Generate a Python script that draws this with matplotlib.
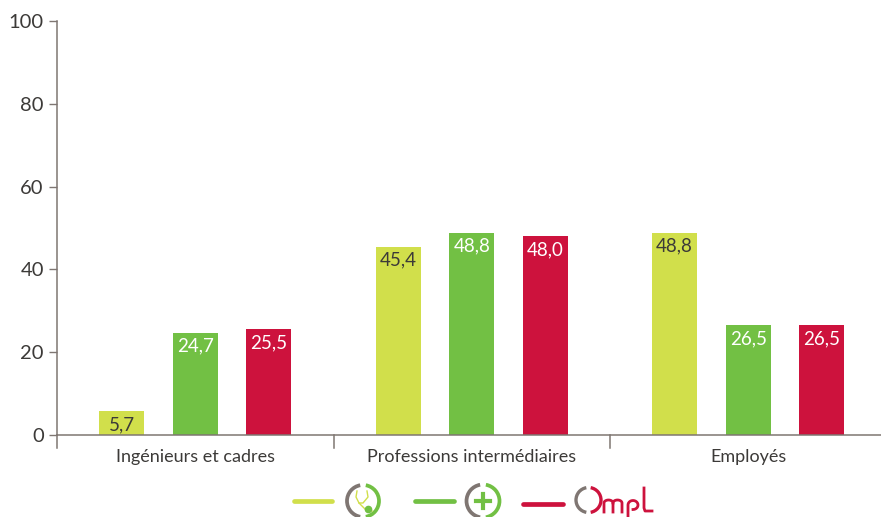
import numpy as np
import matplotlib
matplotlib.use("Agg")
import matplotlib.pyplot as plt
from matplotlib.patches import Arc

# --- Data ---
categories = ["Ingénieurs et cadres", "Professions intermédiaires", "Employés"]
series_1 = [5.7, 45.4, 48.8]
series_2 = [24.7, 48.8, 26.5]
series_3 = [25.5, 48.0, 26.5]
yticks = [0, 20, 40, 60, 80, 100]

LIME = "#d1df4b"
GREEN = "#72c044"
RED = "#cd123d"
GREY = "#7f7672"
TEXT = "#3c3a38"

plt.rcParams["font.family"] = ["Lato", "DejaVu Sans"]

W, H = 881, 517
fig = plt.figure(figsize=(W / 100, H / 100), dpi=100)

# axes area in pixels: x 57..881, y 21..435
ax = fig.add_axes([57 / W, 1 - 435 / H, (881 - 57) / W, (435 - 21) / H])
ax.set_ylim(0, 100)
cat_w = 276.5
ax.set_xlim(-0.5, -0.5 + (881 - 57) / cat_w)

step = 73.7 / cat_w
bar_w = 45 / cat_w
x = np.arange(len(categories))

for off, vals, col, txt in [(-step, series_1, LIME, TEXT),
                            (0, series_2, GREEN, "white"),
                            (step, series_3, RED, "white")]:
    ax.bar(x + off, vals, bar_w, color=col, zorder=2)
    for xi, v in zip(x, vals):
        ax.annotate(f"{v:.1f}".replace(".", ","), (xi + off, v), xytext=(0, -9.5),
                    textcoords="offset points", ha="center", va="center",
                    color=txt, fontsize=13.5)

for s in ["top", "right"]:
    ax.spines[s].set_visible(False)
for s in ["left", "bottom"]:
    ax.spines[s].set_color(GREY)
    ax.spines[s].set_linewidth(1.1)
    ax.spines[s].set_zorder(3)
ax.spines["left"].set_bounds(0, 100)

ax.set_yticks(yticks)
ax.tick_params(axis="y", length=6, width=1, color=GREY, labelsize=14.5,
               labelcolor=TEXT, pad=3.5)
ax.set_xticks(x)
ax.set_xticklabels(categories, fontsize=13, color=TEXT)
ax.tick_params(axis="x", length=0, pad=10)

# group separators below the baseline
for sep in [-0.5, 0.5, 1.5]:
    ax.plot([sep, sep], [0, -3.1], color=GREY, lw=1.1, clip_on=False, zorder=3)

# --- Legend drawn by hand: lines and logos, in pixel coordinates ---
lg = fig.add_axes([0, 0, 1, 1], facecolor="none")
lg.set_xlim(0, W)
lg.set_ylim(H, 0)
lg.axis("off")


def ring(cx, cy, r, right_col, left_col=GREY, lw=2.7):
    lg.add_patch(Arc((cx, cy), 2 * r, 2 * r, theta1=-80, theta2=80, color=right_col, lw=lw))
    lg.add_patch(Arc((cx, cy), 2 * r, 2 * r, theta1=100, theta2=260, color=left_col, lw=lw))


for x0, x1, y, col in [(294, 332, 501, LIME), (415, 454, 501, GREEN), (523, 563, 504, RED)]:
    lg.plot([x0, x1], [y, y], color=col, lw=3.4, solid_capstyle="round")

# first logo: ring with stethoscope
ring(363, 501, 16, GREEN)
lg.plot([357, 356, 359, 366, 372], [491, 497, 503, 510, 511], color=LIME, lw=1)
lg.plot([367, 368, 363, 359], [491, 497, 503, 503], color=LIME, lw=1)
lg.plot([368], [509], marker="o", ms=4.5, color=GREEN)

# second logo: ring with plus
ring(483, 501, 16.5, GREEN)
lg.plot([476, 490], [501, 501], color=GREEN, lw=3)
lg.plot([483, 483], [494, 508], color=GREEN, lw=3)

# third logo: O ring and "mpl" letters
ring(588.5, 500, 12.5, RED, lw=2.4)
t = np.linspace(np.pi, 0, 20)
lg.plot(np.r_[604, 604, 608.5 + 4.5 * np.cos(t), 613, 613], np.r_[512, 503, 503 - 3 * np.sin(t), 503, 512],
        color=RED, lw=2)
lg.plot(np.r_[613, 617.5 + 4.5 * np.cos(t), 622, 622], np.r_[503, 503 - 3 * np.sin(t), 503, 512],
        color=RED, lw=2)
t2 = np.linspace(np.pi, -np.pi / 2, 24)
lg.plot(np.r_[628, 628, 633 + 5 * np.cos(t2)], np.r_[517, 505, 505 - 4.5 * np.sin(t2)], color=RED, lw=2)
lg.plot([644, 644, 645, 652], [488, 508, 511, 511], color=RED, lw=2)

fig.savefig("out.png", dpi=100)
